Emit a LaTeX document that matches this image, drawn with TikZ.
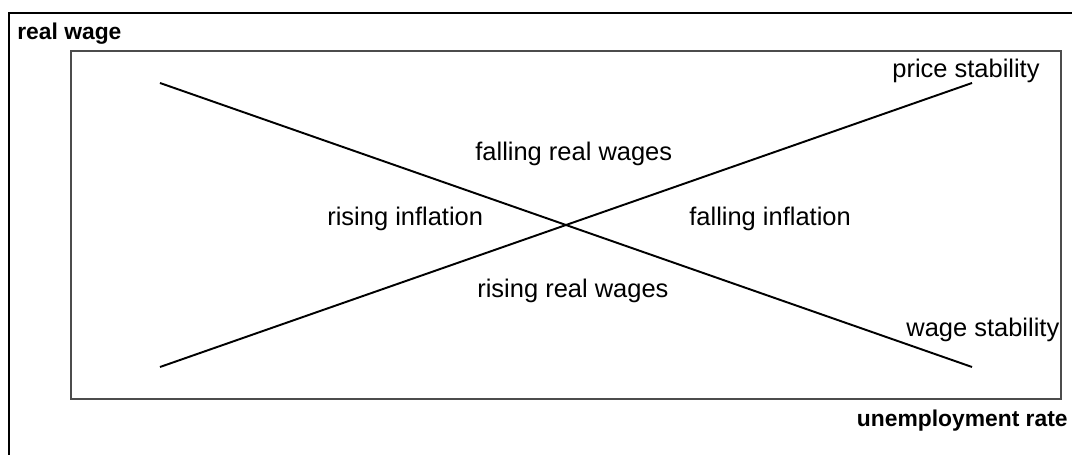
\documentclass[tikz,border=0pt]{standalone}
\usepackage{fontspec}
\setmainfont{Liberation Sans}
\usepackage{tikz}
\usetikzlibrary{
	calc,
	positioning
}

\begin{document}
\begin{tikzpicture}[
				x=0.02cm, y=-0.02cm,
				frame/.style={line width=1.1pt},
				panel/.style={line width=0.8pt, draw=black!70},
				curve/.style={line width=1.1pt},
				label/.style={font=\fontsize{14.5}{17}\selectfont, inner sep=0pt},
				axis/.style={font=\fontsize{13}{16}\selectfont\bfseries, inner sep=0pt}
			]
				% 边界
				\useasboundingbox (0,0) rectangle (1072,455);
				\clip (0,0) rectangle (1072,455);
				\draw[frame] (9,470) -- (9,13) -- (1090,13);
				% 内框
				\draw[panel] (71,51) rectangle (1061,399);

				% 坐标
				\coordinate (wageHi)  at (160, 83);
				\coordinate (wageLo)  at (972,367);
				\coordinate (priceLo) at (160,367);
				\coordinate (priceHi) at (972, 83);

				% 两条直线
				\draw[curve] (wageHi)  -- (wageLo);
				\draw[curve] (priceLo) -- (priceHi);

				% 坐标轴
				\node[axis, anchor=base west] (ylab) at (17,40)   {real wage};
				\node[axis, anchor=base east] (xlab) at (1068,427) {unemployment rate};

				% 文字
				\node[label, anchor=base west] (pstab) at (892,78)  {price stability};
				\node[label, anchor=base west] (wstab) at (906,337) {wage stability};
				\node[label, anchor=base west] (fwage) at (475,161) {falling real wages};
				\node[label, anchor=base west] (rinfl) at (327,226) {rising inflation};
				\node[label, anchor=base west] (finfl) at (689,226) {falling inflation};
				\node[label, anchor=base west] (rwage) at (477,298) {rising real wages};
			\end{tikzpicture}
\end{document}
